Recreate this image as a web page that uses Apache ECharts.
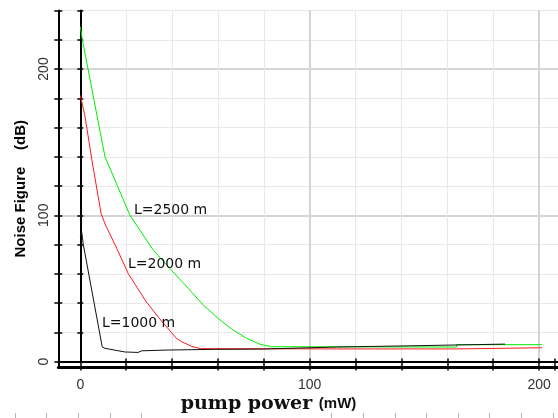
<!DOCTYPE html>
<html>
<head>
<meta charset="utf-8">
<script src="https://cdn.jsdelivr.net/npm/echarts@6/dist/echarts.min.js"></script>
<style>
html,body{margin:0;padding:0;background:#fff;}
#chart{width:558px;height:418px;}
</style>
</head>
<body>
<div id="chart"></div>
<script>
// ---- data ----
const xTickLabels = [0, 100, 200];
const yTickLabels = [0, 100, 200];

const l2500X = [0, 0.9, 9, 10.7, 21.5, 31.6, 40, 46.8, 53, 60.5, 66.2, 72, 77.8, 82.9, 163, 163, 200];
const l2500Y = [229, 220, 153.7, 140, 100, 76.2, 61.5, 50, 39, 28.4, 21.5, 15.9, 11.8, 10.1, 9.9, 11.5, 11.5];

const l2000X = [0, 2, 5, 9, 10.7, 15.8, 20.8, 28.5, 34, 41.5, 44, 48, 52, 111, 163, 163, 200];
const l2000Y = [182, 168, 138, 101.3, 94, 77.4, 60, 41, 30, 16, 13.5, 10.5, 8.8, 8.6, 8.6, 9.4, 9.4];

const l1000X = [0, 0.6, 1.3, 9.5, 10.7, 19.4, 25, 26.6, 36.7, 57.6, 79, 79, 111, 111, 142, 142, 184];
const l1000Y = [86, 88.7, 80, 10, 9, 6.5, 6.2, 7.3, 7.8, 8.3, 8.5, 9.6, 9.9, 10.7, 10.7, 11.9, 11.9];

const seriesNames = ['L=1000 m', 'L=2000 m', 'L=2500 m'];
const seriesColors = ['#111111', '#ff1a1a', '#00ee00'];

// ---- layout ----
const X_PER = 2.3085;           // px per mW
const FRAME_L = 58.3, ZERO_X = 80.3, TOP = 10.5, ZERO_Y = 361.5, W = 558;
const XMAX = (W - ZERO_X) / X_PER;
const XMIN = (FRAME_L - ZERO_X) / X_PER;
const YMAX = 240;

function pairs(xs, ys) { return xs.map((x, i) => [x, ys[i]]); }

const minorColor = '#e8e8e8';
const majorColor = '#d4d4d4';
const hidden = { show: false };
const baseX = { type: 'value', position: 'bottom', axisLine: { show: false, onZero: false }, axisTick: hidden, axisLabel: hidden, splitLine: hidden };
const baseY = { type: 'value', position: 'left', axisLine: { show: false, onZero: false }, axisTick: hidden, axisLabel: hidden, splitLine: hidden };
const labelFmt = v => (xTickLabels.indexOf(v) >= 0 ? String(v) : '');
const yLabelFmt = v => (yTickLabels.indexOf(v) >= 0 ? String(v) : '');

const chart = echarts.init(document.getElementById('chart'), null, { renderer: 'canvas' });

const option = {
  animation: false,
  backgroundColor: '#ffffff',
  grid: [
    { left: FRAME_L, right: 0, top: TOP, height: ZERO_Y - TOP },           // 0: data grid
    { left: ZERO_X, right: 0, top: TOP, height: ZERO_Y - TOP },            // 1: x=0 based grid
    { left: FRAME_L, right: 0, top: TOP, height: 367 - TOP },              // 2: outer frame
    { left: 15, width: 126.6, top: 413, height: 5 },                       // 3: ruler left
    { left: 331.5, width: 221.5, top: 413, height: 5 }                     // 4: ruler right
  ],
  xAxis: [
    Object.assign({}, baseX, { gridIndex: 0, min: XMIN, max: XMAX,
      axisLine: { show: true, onZero: false, lineStyle: { color: '#000', width: 2 } } }),
    Object.assign({}, baseX, { gridIndex: 1, min: 0, max: XMAX, interval: 20,
      axisTick: { show: true, length: 9, lineStyle: { color: '#000', width: 1.5 } },
      axisLabel: { show: true, formatter: labelFmt, margin: 17, fontSize: 14,
        fontFamily: 'Liberation Sans, Arial, sans-serif', color: '#333' },
      splitLine: { show: true, showMaxLine: false, lineStyle: { color: minorColor, width: 1 } } }),
    Object.assign({}, baseX, { gridIndex: 1, min: 0, max: XMAX, interval: 100,
      splitLine: { show: true, showMaxLine: false, lineStyle: { color: majorColor, width: 2 } } }),
    Object.assign({}, baseX, { gridIndex: 1, min: 0, max: XMAX, interval: 20,
      axisTick: { show: true, inside: true, length: 3, lineStyle: { color: '#000', width: 1.5 } } }),
    Object.assign({}, baseX, { gridIndex: 2, min: 0, max: 1,
      axisLine: { show: true, onZero: false, lineStyle: { color: '#000', width: 3, type: [1, 1] } } }),
    Object.assign({}, baseX, { gridIndex: 3, min: 0, max: 4, interval: 1, position: 'top',
      axisTick: { show: true, inside: true, length: 5, lineStyle: { color: '#b4b4b4', width: 1 } } }),
    Object.assign({}, baseX, { gridIndex: 4, min: 0, max: 7, interval: 1, position: 'top',
      axisTick: { show: true, inside: true, length: 5, lineStyle: { color: '#b4b4b4', width: 1 } } })
  ],
  yAxis: [
    Object.assign({}, baseY, { gridIndex: 0, min: 0, max: YMAX, interval: 20,
      axisTick: { show: true, length: 4, lineStyle: { color: '#000', width: 1.5 } },
      axisLabel: { show: true, rotate: 90, formatter: yLabelFmt, margin: 7, fontSize: 14,
        fontFamily: 'Liberation Sans, Arial, sans-serif', color: '#333' },
      splitLine: { show: true, lineStyle: { color: minorColor, width: 1 } } }),
    Object.assign({}, baseY, { gridIndex: 0, min: 0, max: YMAX, interval: 100,
      splitLine: { show: true, showMaxLine: false, lineStyle: { color: majorColor, width: 2 } } }),
    Object.assign({}, baseY, { gridIndex: 0, min: 0, max: YMAX, interval: 20,
      axisTick: { show: true, inside: true, length: 4, lineStyle: { color: '#000', width: 1.5 } } }),
    Object.assign({}, baseY, { gridIndex: 1, min: 0, max: YMAX, interval: 20,
      axisLine: { show: true, onZero: false, lineStyle: { color: '#000', width: 2 } },
      axisTick: { show: true, length: 3, lineStyle: { color: '#000', width: 1.5 } } }),
    Object.assign({}, baseY, { gridIndex: 1, min: 0, max: YMAX, interval: 20,
      axisTick: { show: true, inside: true, length: 3, lineStyle: { color: '#000', width: 1.5 } } }),
    Object.assign({}, baseY, { gridIndex: 2, min: 0, max: 1,
      axisLine: { show: true, onZero: false, lineStyle: { color: '#000', width: 2 } },
      name: 'Noise Figure    (dB)', nameLocation: 'middle', nameGap: 30,
      nameTextStyle: { fontSize: 15, fontWeight: 'bold', color: '#000',
        fontFamily: 'Liberation Sans, Arial, sans-serif' } }),
    Object.assign({}, baseY, { gridIndex: 3, min: 0, max: 1 }),
    Object.assign({}, baseY, { gridIndex: 4, min: 0, max: 1 })
  ],
  series: [
    { name: seriesNames[0], type: 'line', xAxisIndex: 0, yAxisIndex: 0, data: pairs(l1000X, l1000Y),
      showSymbol: false, lineStyle: { color: seriesColors[0], width: 1 }, z: 5 },
    { name: seriesNames[1], type: 'line', xAxisIndex: 0, yAxisIndex: 0, data: pairs(l2000X, l2000Y),
      showSymbol: false, lineStyle: { color: seriesColors[1], width: 1 }, z: 4 },
    { name: seriesNames[2], type: 'line', xAxisIndex: 0, yAxisIndex: 0, data: pairs(l2500X, l2500Y),
      showSymbol: false, lineStyle: { color: seriesColors[2], width: 1 }, z: 3 }
  ],
  graphic: [
    { type: 'text', x: 134, y: 210, z: 10,
      style: { text: seriesNames[2], fontSize: 14, fontFamily: 'DejaVu Sans', fill: '#111', verticalAlign: 'middle' } },
    { type: 'text', x: 128, y: 264, z: 10,
      style: { text: seriesNames[1], fontSize: 14, fontFamily: 'DejaVu Sans', fill: '#111', verticalAlign: 'middle' } },
    { type: 'text', x: 102, y: 323, z: 10,
      style: { text: seriesNames[0], fontSize: 14, fontFamily: 'DejaVu Sans', fill: '#111', verticalAlign: 'middle' } },
    { type: 'text', x: 268.5, y: 404, z: 10,
      style: { text: '{a|pump power }{b|(mW)}', align: 'center', verticalAlign: 'middle',
        rich: {
          a: { fontFamily: 'DejaVu Serif', fontWeight: 'bold', fontSize: 19, lineHeight: 20, fill: '#111', verticalAlign: 'middle' },
          b: { fontFamily: 'Liberation Sans', fontWeight: 'bold', fontSize: 15, lineHeight: 20, fill: '#111', verticalAlign: 'middle' }
        } } }
  ]
};
chart.setOption(option);
</script>
</body>
</html>
